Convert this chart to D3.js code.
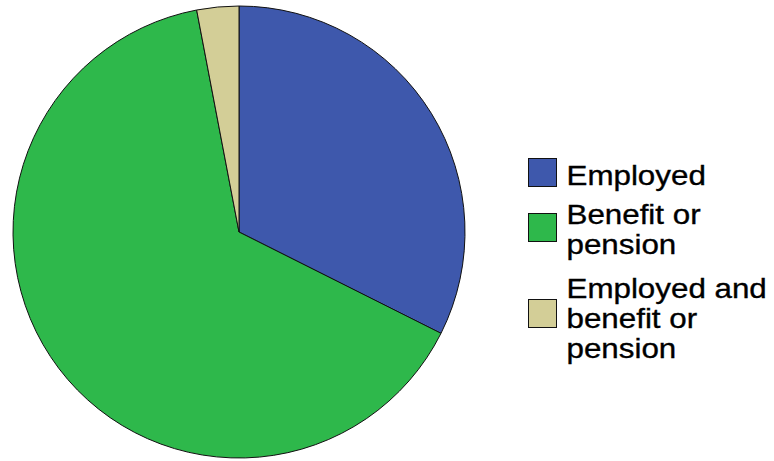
<!DOCTYPE html>
<html>
<head>
<meta charset="utf-8">
<script src="https://cdn.jsdelivr.net/npm/d3@7"></script>
<style>
  html, body { margin: 0; padding: 0; background: #fff; }
  svg { display: block; }
</style>
</head>
<body>
<svg id="chart" width="774" height="461"></svg>
<script>
// Income source shares (percent)
const categories = ["Employed", "Benefit or pension", "Employed and benefit or pension"];
const shares = [32.4, 64.6, 3.0];
const colors = ["#3e58ac", "#2eb84b", "#d3ce97"];
// Legend text, split into lines
const legendLines = [["Employed"], ["Benefit or", "pension"], ["Employed and", "benefit or", "pension"]];

const svg = d3.select("#chart");
const cx = 239, cy = 232, r = 226;

const pie = d3.pie().sort(null).value(d => d)(shares);
const arc = d3.arc().innerRadius(0).outerRadius(r);

const g = svg.append("g").attr("transform", `translate(${cx},${cy})`);
g.selectAll("path")
  .data(pie)
  .join("path")
  .attr("d", arc)
  .attr("fill", (d, i) => colors[i])
  .attr("stroke", "#111")
  .attr("stroke-width", 1)
  .attr("stroke-linejoin", "round");

// Legend
const color = d3.scaleOrdinal().domain(categories).range(colors);
const boxY = [158, 213, 299];
const firstBaseline = [185, 224, 298];
const lineGap = 30;

const leg = svg.append("g");
categories.forEach((c, i) => {
  leg.append("rect")
    .attr("x", 528.5).attr("y", boxY[i] + 0.5)
    .attr("width", 28).attr("height", 28)
    .attr("fill", color(c))
    .attr("stroke", "#111").attr("stroke-width", 1);
  legendLines[i].forEach((t, j) => {
    const y = firstBaseline[i] + j * lineGap;
    leg.append("text")
      .attr("transform", `translate(566.5,${y}) scale(1.1,1)`)
      .attr("font-family", "'Liberation Sans', Arial, sans-serif")
      .attr("font-size", 28.5)
      .attr("fill", "#000")
      .attr("stroke", "#000")
      .attr("stroke-width", 0.35)
      .text(t);
  });
});
</script>
</body>
</html>
